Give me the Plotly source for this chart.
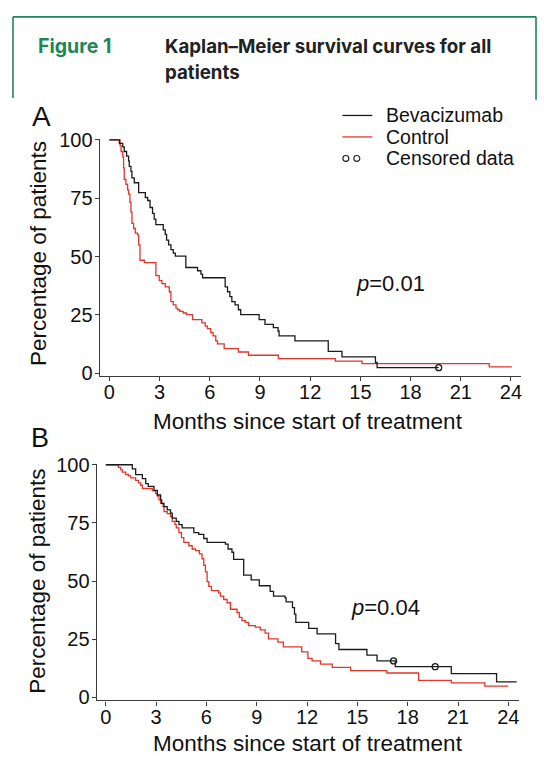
import plotly.graph_objects as go

W, H = 544, 765

# ---------------- data ----------------
months_ticks = [0, 3, 6, 9, 12, 15, 18, 21, 24]
pct_ticks = [0, 25, 50, 75, 100]

# Panel A
a_bev_t = [0, 0.6, 0.8, 0.89, 1.03, 1.15, 1.19, 1.29, 1.35, 1.49, 1.75, 2.15, 2.29, 2.43, 2.58,
           2.68, 2.78, 3.22, 3.34, 3.42, 3.54, 3.68, 3.82, 3.94, 4.57, 5.27, 5.47, 5.57, 6.92,
           7.06, 7.2, 7.32, 7.51, 7.71, 7.85, 8.95, 9.3, 9.8, 10.08, 10.14, 11.09, 13.08, 13.9,
           15.9, 16.0, 19.68]
a_bev_s = [100, 98.5, 97, 95, 93, 91, 88.6, 86.5, 83.7, 81.6, 77.4, 75.3, 74, 71, 68.5,
           66, 63.7, 61.4, 59.5, 57, 55, 53, 51.5, 50.2, 45.3, 43.9, 42.5, 40.9, 37,
           34.9, 32.8, 30.7, 29.3, 27.2, 25.1, 23, 20.9, 19.5, 18.1, 16, 13.9, 9.4, 7.0,
           4.6, 2.4, 2.4]
a_ctl_t = [0, 0.64, 0.7, 0.8, 0.85, 0.89, 0.99, 1.09, 1.15, 1.23, 1.29, 1.35, 1.45, 1.55, 1.69,
           1.75, 1.83, 2.09, 2.78, 2.98, 3.14, 3.34, 3.58, 3.68, 3.82, 3.98, 4.08, 4.21, 4.41,
           4.61, 4.97, 5.53, 5.73, 5.86, 6.06, 6.2, 6.36, 6.46, 6.86, 7.71, 8.31, 10.1, 13.5,
           15.1, 22.7, 24.05]
a_ctl_s = [100, 97.5, 95, 92.7, 88, 83, 80.9, 78.5, 76.7, 73.2, 69, 64.2, 62, 60, 59.3,
           55, 48.4, 47.4, 41.8, 39.7, 38.4, 37, 34.9, 30.7, 29.3, 27.9, 27.2, 26.5, 25.8,
           25.1, 23, 21.6, 20.2, 19.1, 17.4, 16, 13.9, 12.6, 10.5, 9.1, 7.7, 6.3, 5.2,
           4.1, 2.7, 2.7]
a_cens_t = [19.68]
a_cens_s = [2.4]

# Panel B
b_bev_t = [0, 1.58, 1.78, 2.18, 2.38, 2.53, 2.87, 3.07, 3.27, 3.33, 3.47, 3.66, 3.86, 3.96, 4.2,
           4.36, 4.55, 5.25, 5.54, 5.84, 6.04, 7.13, 7.29, 7.52, 7.62, 8.22, 8.67, 9.15, 9.8,
           10.0, 10.69, 10.75, 11.13, 11.25, 11.33, 12.1, 12.6, 13.7, 13.9, 15.57, 16.17,
           17.26, 20.6, 23.3, 24.5]
b_bev_s = [100, 98.2, 95.8, 94, 91.9, 90.7, 89, 87, 84.9, 83.4, 82, 80.6, 79.2, 77.1, 75.7,
           74.3, 72.9, 70.8, 70.1, 68.3, 66.6, 65.9, 63.8, 62.4, 59.3, 52.6, 50.5, 48, 45.6,
           43.5, 42.8, 41.1, 38.6, 35.8, 32.3, 29.7, 27.3, 23.1, 20.6, 18.2, 15.7,
           13.2, 10.2, 6.7, 6.7]
b_ctl_t = [0, 0.75, 0.89, 0.99, 1.19, 1.35, 1.49, 1.78, 1.94, 2.08, 2.18, 2.77, 2.97, 3.07, 3.17,
           3.27, 3.41, 3.47, 3.66, 3.86, 3.96, 4.12, 4.2, 4.36, 4.51, 4.65, 4.95, 5.15, 5.35,
           5.58, 5.74, 5.84, 5.94, 6.04, 6.14, 6.3, 6.73, 6.83, 7.03, 7.23, 7.43, 7.82, 7.96,
           8.12, 8.32, 8.51, 8.91, 9.21, 9.5, 9.7, 10.26, 10.59, 11.68, 12.05, 12.3, 12.8,
           13.5, 14.6, 16.76, 18.65, 20.6, 22.6, 24.0]
b_ctl_s = [100, 98.9, 97.8, 96.8, 95.8, 95.2, 94.4, 93.3, 92.2, 91.2, 89.8, 88.8, 87.7, 86.5, 84.9,
           83.4, 82, 79.9, 79, 77.8, 75.7, 74.3, 72.9, 70.8, 68.7, 66.6, 65.2, 63.8, 63.1,
           61.7, 59.6, 56.8, 54, 49.8, 47.7, 45.9, 44.9, 43.5, 42.1, 40.7, 37.9, 36.5, 34.4,
           33, 32.3, 30.9, 30.2, 29, 27.6, 25.2, 23.8, 21.7, 19.6, 16.8, 15.7, 14.3,
           12.9, 11.5, 10.5, 7.3, 6.3, 4.9, 4.9]
b_cens_t = [17.16, 19.64]
b_cens_s = [15.7, 13.2]

legend_labels = ["Bevacizumab", "Control", "Censored data"]
p_values = ["0.01", "0.04"]
panel_labels = ["A", "B"]
x_title = "Months since start of treatment"
y_title = "Percentage of patients"

# ---------------- styling ----------------
BLACK = "#1b1b1b"
RED = "#e2352b"
GREEN = "#1d8659"
AXIS = "#3a3a3a"
FONT = "Liberation Sans, Arial, sans-serif"
HFONT = "Inter, Noto Sans, sans-serif"


def px(x):
    return x / W


def py(y):
    return 1 - y / H


fig = go.Figure()

for i, (bt, bs, ct, cs, et, es) in enumerate([
        (a_bev_t, a_bev_s, a_ctl_t, a_ctl_s, a_cens_t, a_cens_s),
        (b_bev_t, b_bev_s, b_ctl_t, b_ctl_s, b_cens_t, b_cens_s)]):
    xa = "x" if i == 0 else "x2"
    ya = "y" if i == 0 else "y2"
    fig.add_trace(go.Scatter(x=ct, y=cs, mode="lines", line=dict(color=RED, width=1.3, shape="hv"),
                             xaxis=xa, yaxis=ya, showlegend=False, cliponaxis=False))
    fig.add_trace(go.Scatter(x=bt, y=bs, mode="lines", line=dict(color=BLACK, width=1.3, shape="hv"),
                             xaxis=xa, yaxis=ya, showlegend=False, cliponaxis=False))
    fig.add_trace(go.Scatter(x=et, y=es, mode="markers",
                             marker=dict(symbol="circle-open", size=6, color=BLACK, line=dict(width=1.3)),
                             xaxis=xa, yaxis=ya, showlegend=False, cliponaxis=False))

axis_common = dict(showline=True, linecolor=AXIS, linewidth=1.4, ticks="outside", ticklen=4,
                   tickwidth=1.2, tickcolor=AXIS, showgrid=False, zeroline=False,
                   tickfont=dict(family=FONT, size=20, color="#111"))

fig.update_layout(
    width=W, height=H,
    margin=dict(l=0, r=0, t=0, b=0),
    paper_bgcolor="white", plot_bgcolor="white",
    xaxis=dict(domain=[px(100), px(522)], range=[-0.57, 24.6], tickvals=months_ticks,
               anchor="y", ticklabelstandoff=-6, **axis_common),
    yaxis=dict(domain=[py(375), py(132)], range=[-1.26, 100.4], tickvals=pct_ticks,
               anchor="x", ticklabelstandoff=-2, **axis_common),
    xaxis2=dict(domain=[px(97), px(520)], range=[-0.536, 24.64], tickvals=months_ticks,
                anchor="y2", ticklabelstandoff=-6, **axis_common),
    yaxis2=dict(domain=[py(707), py(465)], range=[-1.26, 100.3], tickvals=pct_ticks,
                anchor="x2", ticklabelstandoff=-2, **axis_common),
    showlegend=False,
)

ann = []
shapes = []

# header box
hdr_line = dict(color=GREEN, width=1.6)
shapes.append(dict(type="line", xref="paper", yref="paper", x0=px(13), x1=px(537), y0=py(7), y1=py(7), line=hdr_line))
shapes.append(dict(type="line", xref="paper", yref="paper", x0=px(13), x1=px(13), y0=py(7), y1=py(90), line=hdr_line))
shapes.append(dict(type="line", xref="paper", yref="paper", x0=px(537), x1=px(537), y0=py(7), y1=py(92), line=hdr_line))

ann.append(dict(text="<b>Figure 1</b>", x=px(36), y=py(37), xanchor="left", yanchor="middle",
                font=dict(family=HFONT, size=19.5, color=GREEN)))
ann.append(dict(text="<b>Kaplan–Meier survival curves for all</b>", x=px(163), y=py(37),
                xanchor="left", yanchor="middle",
                font=dict(family=HFONT, size=18.7, color="#222")))
ann.append(dict(text="<b>patients</b>", x=px(163), y=py(64), xanchor="left", yanchor="middle",
                font=dict(family=HFONT, size=18.7, color="#222")))

# panel labels
ann.append(dict(text=panel_labels[0], x=px(41.7), y=py(109), xanchor="center", yanchor="middle",
                font=dict(family=FONT, size=28, color="#111")))
ann.append(dict(text=panel_labels[1], x=px(40), y=py(438), xanchor="center", yanchor="middle",
                font=dict(family=FONT, size=27, color="#111")))

# axis titles
for (cx, cy) in [(308.3, 421), (309, 751)]:
    ann.append(dict(text=x_title, x=px(cx), y=py(cy), xanchor="center", yanchor="middle",
                    font=dict(family=FONT, size=22.5, color="#111")))
for (cx, cy) in [(38, 249), (37.5, 585)]:
    ann.append(dict(text=y_title, x=px(cx), y=py(cy), xanchor="center", yanchor="middle",
                    textangle=-90, font=dict(family=FONT, size=22.5, color="#111")))

# p-values
for (lx, cy), pv in zip([(355, 280), (350, 612)], p_values):
    ann.append(dict(text="<i>p</i>=" + pv, x=px(lx), y=py(cy), xanchor="left", yanchor="middle",
                    font=dict(family=FONT, size=22, color="#111")))

# legend
legend_y = [108, 130, 152]
shapes.append(dict(type="line", xref="paper", yref="paper", x0=px(343), x1=px(373),
                   y0=py(legend_y[0]), y1=py(legend_y[0]), line=dict(color=BLACK, width=1.3)))
shapes.append(dict(type="line", xref="paper", yref="paper", x0=px(343), x1=px(373),
                   y0=py(legend_y[1]), y1=py(legend_y[1]), line=dict(color=RED, width=1.3)))
for cxp in [346.5, 357.5]:
    shapes.append(dict(type="circle", xref="paper", yref="paper", x0=px(cxp - 3), x1=px(cxp + 3),
                       y0=py(legend_y[2] + 3), y1=py(legend_y[2] - 3),
                       line=dict(color=BLACK, width=1.1)))
for lab, ly in zip(legend_labels, legend_y):
    ann.append(dict(text=lab, x=px(385), y=py(ly), xanchor="left", yanchor="middle",
                    font=dict(family=FONT, size=19.5, color="#111")))

for a in ann:
    a.update(xref="paper", yref="paper", showarrow=False)

fig.update_layout(annotations=ann, shapes=shapes)

# remove the default page margin so the figure fills the window exactly
page_css = ("document.documentElement.style.margin='0';document.documentElement.style.padding='0';"
            "document.body.style.margin='0';document.body.style.padding='0';"
            "document.body.style.overflow='hidden';")
fig.write_html("out.html", post_script=page_css, config={"displayModeBar": False})
